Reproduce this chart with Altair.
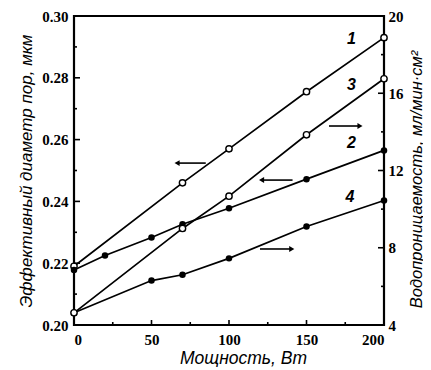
import altair as alt
import pandas as pd

# ---- data ----
power_1 = [0, 70, 100, 150, 200]
diam_1 = [0.219, 0.246, 0.257, 0.2755, 0.293]          # curve 1, left axis (open)
power_2 = [0, 20, 50, 70, 100, 150, 200]
diam_2 = [0.2178, 0.2225, 0.2283, 0.2326, 0.2378, 0.2472, 0.2565]  # curve 2, left axis (filled)
power_3 = [0, 70, 100, 150, 200]
perm_3 = [4.63, 9.0, 10.67, 13.85, 16.75]              # curve 3, right axis (open)
power_4 = [0, 50, 70, 100, 150, 200]
perm_4 = [4.63, 6.3, 6.6, 7.45, 9.1, 10.45]            # curve 4, right axis (filled)

curve_labels = ["1", "3", "2", "4"]
label_power = [179, 179, 179, 178]
label_diam = [0.2926, 0.2777, 0.2589, 0.2415]

arrow_from = [85, 164.5, 141, 120]
arrow_to = [66.5, 184.5, 121, 140.5]
arrow_diam = [0.2524, 0.2644, 0.2469, 0.2246]
arrow_shape = ["triangle-left", "triangle-right", "triangle-left", "triangle-right"]

x_labels = [0, 50, 100, 150, 200]
x_minor = [25, 75, 125, 175]
left_labels = [0.20, 0.22, 0.24, 0.26, 0.28, 0.30]
left_minor = [0.21, 0.23, 0.25, 0.27, 0.29]
right_labels = [4, 8, 12, 16, 20]
right_minor = [6, 10, 14, 18]

W, H = 310, 309

xs = alt.Scale(domain=[0, 200], nice=False, zero=False)
ls = alt.Scale(domain=[0.20, 0.30], nice=False, zero=False)
rs = alt.Scale(domain=[4, 20], nice=False, zero=False)

x_axis = alt.Axis(values=x_labels, format="d", ticks=False, domain=False, grid=False,
                  labelFont="Liberation Serif", labelFontWeight="bold", labelFontSize=15,
                  labelColor="black", labelPadding=7, title="Мощность, Вт",
                  titleFont="Liberation Sans", titleFontStyle="italic", titleFontWeight="normal",
                  titleFontSize=17.5, titleColor="black", titlePadding=2, titleX=169)
left_axis = alt.Axis(values=left_labels, format=".2f", ticks=False, domain=False, grid=False,
                     labelFont="Liberation Serif", labelFontWeight="bold", labelFontSize=15,
                     labelColor="black", labelPadding=6, title="Эффективный диаметр пор, мкм",
                     titleFont="Liberation Sans", titleFontStyle="italic", titleFontWeight="normal",
                     titleFontSize=17, titleColor="black", titlePadding=6)
right_axis = alt.Axis(orient="right", values=right_labels, format="d", ticks=False, domain=False,
                      grid=False, labelFont="Liberation Serif", labelFontWeight="bold",
                      labelFontSize=15, labelColor="black", labelPadding=4,
                      title="Водопроницаемость, мл/мин·см²", titleFont="Liberation Sans",
                      titleFontStyle="italic", titleFontWeight="normal", titleFontSize=16.5,
                      titleColor="black", titleAngle=270, titleBaseline="top", titlePadding=5,
                      titleY=163)


def X(field):
    return alt.X(field, scale=xs, axis=x_axis)


def curve(p, v, yscale, yaxis, filled):
    df = pd.DataFrame({"p": p, "v": v})
    base = alt.Chart(df)
    line = base.mark_line(color="black", strokeWidth=1.7).encode(
        x=X("p:Q"), y=alt.Y("v:Q", scale=yscale, axis=yaxis))
    if filled:
        pts = base.mark_point(shape="circle", filled=True, color="black", size=42, opacity=1)
    else:
        pts = base.mark_point(shape="circle", filled=True, fill="white", stroke="black",
                              strokeWidth=1.4, size=40, opacity=1)
    pts = pts.encode(x=X("p:Q"), y=alt.Y("v:Q", scale=yscale, axis=yaxis))
    return line + pts


def hticks(vals, yscale, yaxis, x0, x1):
    return alt.Chart(pd.DataFrame({"v": vals})).mark_rule(color="black", strokeWidth=1.6).encode(
        x=alt.value(x0), x2=alt.value(x1), y=alt.Y("v:Q", scale=yscale, axis=yaxis))


def vticks(vals, y0, y1):
    return alt.Chart(pd.DataFrame({"p": vals})).mark_rule(color="black", strokeWidth=1.6).encode(
        y=alt.value(y0), y2=alt.value(y1), x=X("p:Q"))


lab_df = pd.DataFrame({"t": curve_labels, "p": label_power, "v": label_diam})
labels = alt.Chart(lab_df).mark_text(font="Liberation Sans", fontWeight="bold", fontStyle="italic",
                                     fontSize=16, color="black").encode(
    x=X("p:Q"), y=alt.Y("v:Q", scale=ls, axis=left_axis), text="t:N")

arr_df = pd.DataFrame({"a": arrow_from, "b": arrow_to, "v": arrow_diam, "s": arrow_shape})
arrow_lines = alt.Chart(arr_df).mark_rule(color="black", strokeWidth=1.6).encode(
    x=X("a:Q"), x2="b:Q", y=alt.Y("v:Q", scale=ls, axis=left_axis))
arrow_heads = alt.Chart(arr_df).mark_point(filled=True, color="black", size=35, opacity=1).encode(
    x=X("b:Q"), y=alt.Y("v:Q", scale=ls, axis=left_axis),
    shape=alt.Shape("s:N", scale=alt.Scale(domain=["triangle-left", "triangle-right"],
                                           range=["triangle-left", "triangle-right"]), legend=None))

left_group = alt.layer(
    curve(power_1, diam_1, ls, left_axis, False),
    curve(power_2, diam_2, ls, left_axis, True),
    hticks(left_labels, ls, left_axis, 0, 6),
    hticks(left_minor, ls, left_axis, 0, 3),
    vticks(x_labels, H, H - 5),
    vticks(x_minor, H, H - 3),
    labels,
    arrow_lines,
    arrow_heads,
)

right_group = alt.layer(
    curve(power_4, perm_4, rs, right_axis, True),
    curve(power_3, perm_3, rs, right_axis, False),
    hticks(right_labels, rs, right_axis, W, W - 6),
    hticks(right_minor, rs, right_axis, W, W - 3),
)

chart = alt.layer(left_group, right_group).resolve_scale(y="independent").properties(
    width=W, height=H,
    autosize=alt.AutoSizeParams(type="none"),
    padding={"left": 66, "top": 8, "right": 39, "bottom": 42},
    background="white",
).configure_view(stroke="black", strokeWidth=2.2)

chart.save("out.html", embed_options={"renderer": "svg", "actions": False})
